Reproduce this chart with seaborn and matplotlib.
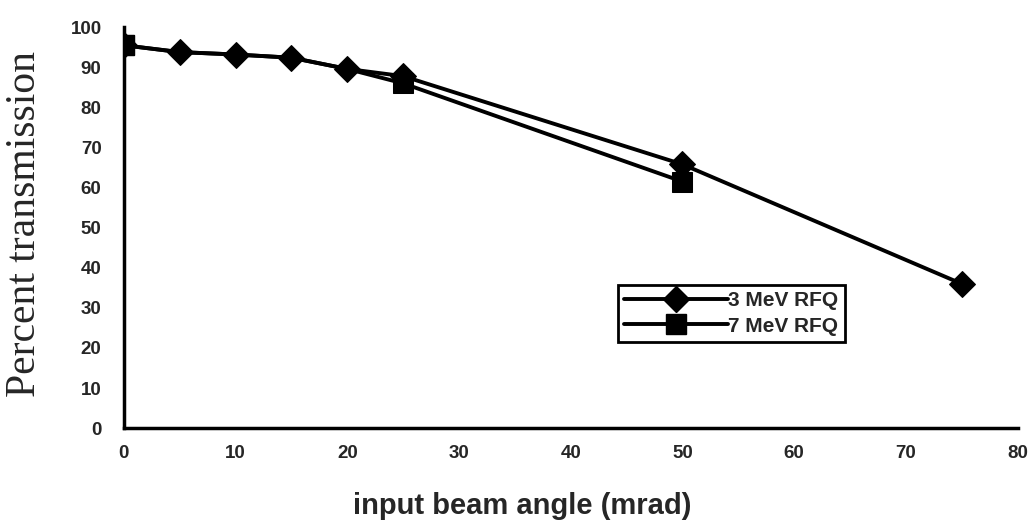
import matplotlib
matplotlib.use("Agg")
import matplotlib.pyplot as plt
from matplotlib.lines import Line2D
import seaborn as sns
import pandas as pd

# data
angle_3mev = [0, 5, 10, 15, 20, 25, 50, 75]
trans_3mev = [95.5, 93.8, 93.2, 92.4, 89.6, 87.8, 65.8, 36.0]
angle_7mev = [0, 5, 10, 15, 20, 25, 50]
trans_7mev = [95.5, 93.8, 93.2, 92.4, 89.6, 86.0, 61.5]
series_names = ["3 MeV RFQ", "7 MeV RFQ"]
x_ticks = [0, 10, 20, 30, 40, 50, 60, 70, 80]
y_ticks = [0, 10, 20, 30, 40, 50, 60, 70, 80, 90, 100]

sns.set_style("white")
plt.rcParams['font.family'] = ['Liberation Sans', 'DejaVu Sans']

df3 = pd.DataFrame({"angle": angle_3mev, "trans": trans_3mev})
df7 = pd.DataFrame({"angle": angle_7mev, "trans": trans_7mev})

fig = plt.figure(figsize=(10.32, 5.24), dpi=100)
ax = fig.add_axes([0.120, 0.183, 0.866, 0.765])

sns.lineplot(data=df7, x="angle", y="trans", color="black", marker="s",
             markevery=[0, 5, 6], linewidth=2.8, markersize=15,
             markeredgecolor="black", ax=ax, zorder=2, legend=False)
sns.lineplot(data=df3, x="angle", y="trans", color="black", marker="D",
             linewidth=2.8, markersize=13, markeredgecolor="black", ax=ax,
             zorder=3, legend=False)
# square at 0 drawn on top as in reference
ax.plot(angle_7mev[:1], trans_7mev[:1], marker="s", markersize=15, color="black", zorder=4)

ax.set_xlim(0, 80)
ax.set_ylim(0, 100)
ax.set_xticks(x_ticks)
ax.set_yticks(y_ticks)
ax.set_xticklabels([str(t) for t in x_ticks], fontsize=13.5, fontweight="bold")
ax.set_yticklabels([str(t) for t in y_ticks], fontsize=13.5, fontweight="bold")
ax.tick_params(axis="both", direction="inout", length=14, width=2, color="black")
ax.tick_params(axis="x", pad=5)
ax.tick_params(axis="y", pad=9)

for s in ["top", "right"]:
    ax.spines[s].set_visible(False)
for s in ["left", "bottom"]:
    ax.spines[s].set_linewidth(2.5)
    ax.spines[s].set_color("black")

ax.set_ylabel("Percent transmission", fontsize=30, family=["Liberation Serif"])
ax.yaxis.set_label_coords(-0.089, 0.509)
ax.set_xlabel("input beam angle (mrad)", fontsize=21, fontweight="bold")
ax.xaxis.set_label_coords(0.446, -0.16)

handles = [
    Line2D([], [], color="black", linewidth=2.8, marker="D", markersize=13),
    Line2D([], [], color="black", linewidth=2.8, marker="s", markersize=14),
]
leg = ax.legend(handles, series_names,
                loc="upper left", bbox_to_anchor=(0.553, 0.357), frameon=True,
                fancybox=False, edgecolor="black", framealpha=1,
                prop={"weight": "bold", "size": 15}, handlelength=5.0,
                handletextpad=0.0, borderpad=0.3, labelspacing=0.3,
                borderaxespad=0, numpoints=1)
leg.get_frame().set_linewidth(2)

fig.savefig("out.png", dpi=100, facecolor="white")
